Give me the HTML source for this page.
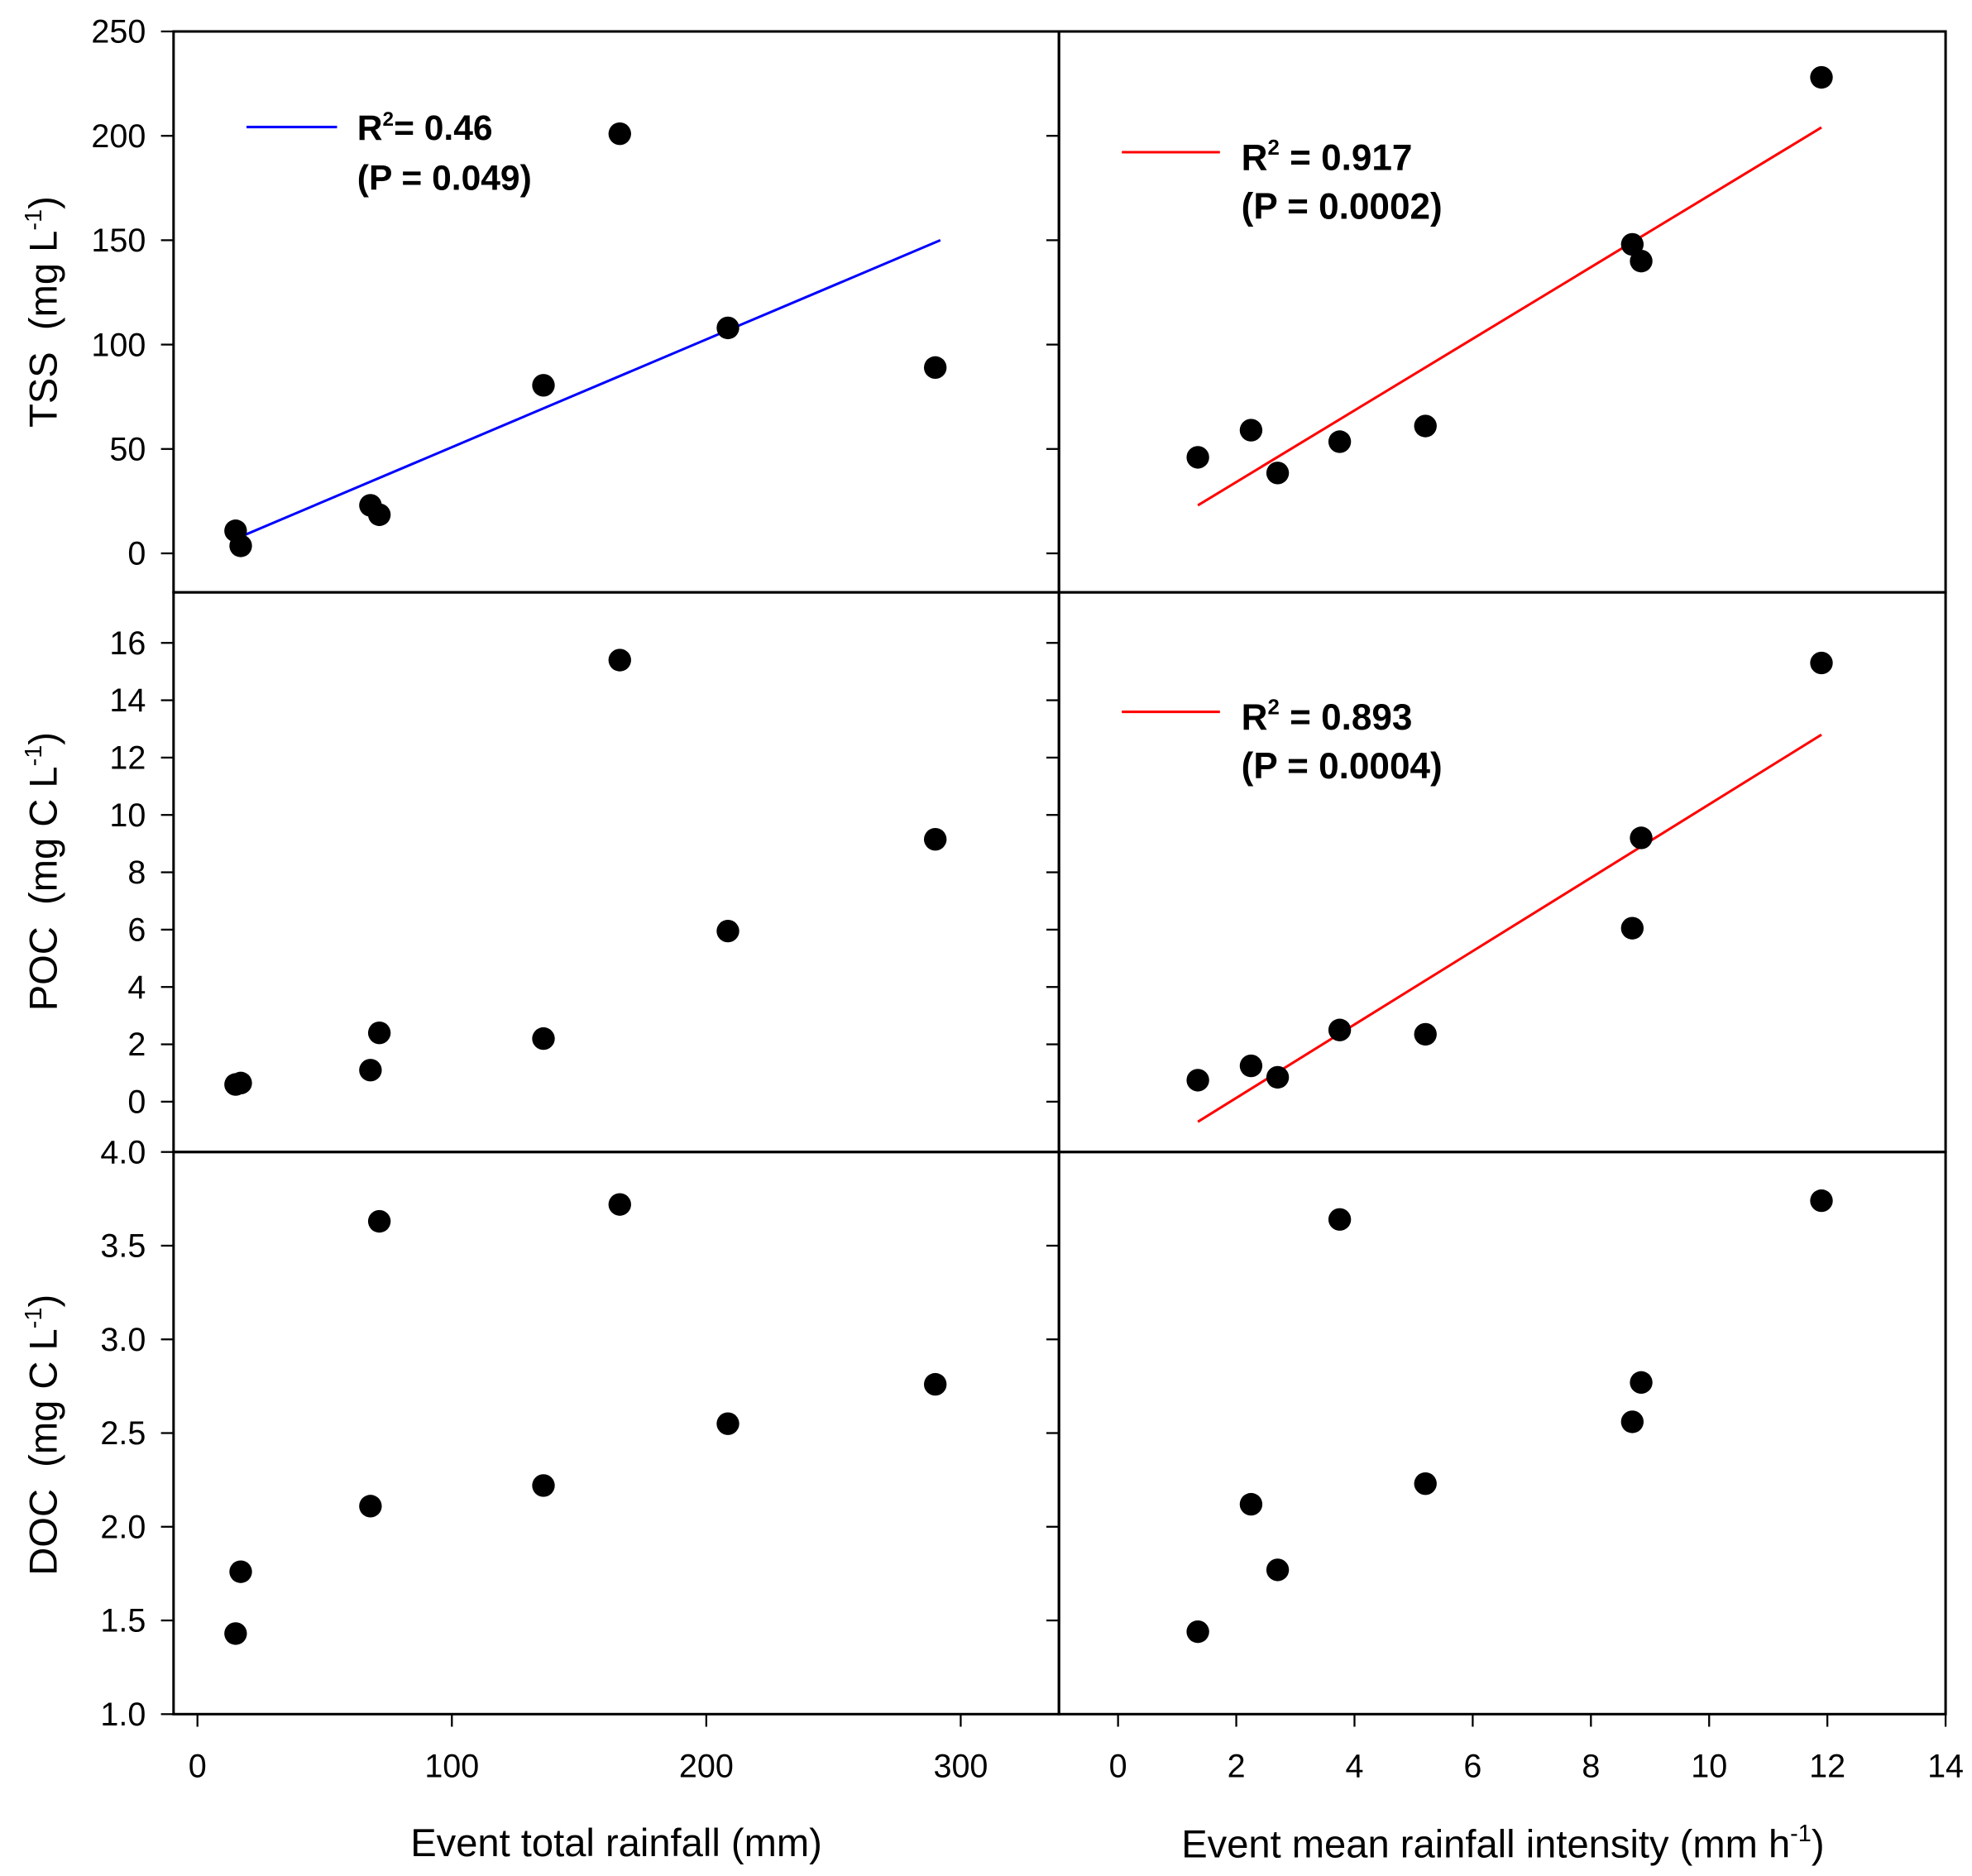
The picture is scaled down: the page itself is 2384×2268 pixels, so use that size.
<!DOCTYPE html>
<html><head><meta charset="utf-8"><style>
html,body{margin:0;padding:0;background:#fff}
svg{display:block}
text{font-family:"Liberation Sans",Arial,sans-serif;fill:#000}
</style></head><body>
<svg id="fig" width="2384" height="2268" viewBox="0 0 1568 1491.7" xmlns="http://www.w3.org/2000/svg"></svg>
<script>
const rainfall=[15,17,68,71.5,136,166,208.5,290];
const intensity=[1.35,2.25,2.7,3.75,5.2,8.7,8.85,11.9];
const tssL=[10.8,3.6,23,18.5,80.5,201,108,89];
const tssR=[46,59,38.5,53.5,61,148,140,228];
const pocL=[0.6,0.65,1.1,2.4,2.2,15.4,5.95,9.15];
const pocR=[0.75,1.25,0.85,2.5,2.35,6.05,9.2,15.3];
const docL=[1.43,1.76,2.11,3.63,2.22,3.72,2.55,2.76];
const docR=[1.44,2.12,1.77,3.64,2.23,2.56,2.77,3.74];
const fitTssL=[[17,8],[292,150]];
const fitTssR=[[1.35,23],[11.9,204]];
const fitPocR=[[1.35,-0.7],[11.9,12.8]];
const xTicksL=[0,100,200,300];
const xTicksR=[0,2,4,6,8,10,12,14];
const yTicksTss=[0,50,100,150,200,250];
const yTicksPoc=[0,2,4,6,8,10,12,14,16];
const yTicksDoc=[1.0,1.5,2.0,2.5,3.0,3.5,4.0];

const svg=document.getElementById('fig');
const NS='http://www.w3.org/2000/svg';
function mk(tag,attrs,parent){const e=document.createElementNS(NS,tag);for(const k in attrs)e.setAttribute(k,attrs[k]);(parent||svg).appendChild(e);return e;}

const xL=v=>157+v*2.023;
const xR=v=>889+v*47.0;
const yT=v=>440-v*1.66;
const yM=v=>876-v*22.8;
const yB=v=>1363-(v-1)*149;

const panels=[[138,25,704,446,'panel-tss-rainfall'],[842,25,705,446,'panel-tss-intensity'],[138,471,704,445,'panel-poc-rainfall'],[842,471,705,445,'panel-poc-intensity'],[138,916,704,447,'panel-doc-rainfall'],[842,916,705,447,'panel-doc-intensity']];
for(const p of panels){const r=mk('rect',{x:p[0],y:p[1],width:p[2],height:p[3],fill:'none',stroke:'#000','stroke-width':2});

}

function yAxis(ticks,fy,fmt,name){const g=mk('g',{});


for(const t of ticks){const y=fy(t);mk('line',{x1:128,x2:138,y1:y,y2:y,stroke:'#000','stroke-width':1.5},g);
const tx=mk('text',{x:116,y:y+9,'text-anchor':'end','font-size':26},g);tx.textContent=fmt(t);
mk('line',{x1:832,x2:842,y1:y,y2:y,stroke:'#000','stroke-width':1.5},g);}}
yAxis(yTicksTss,yT,t=>t,'y-axis-tss');
yAxis(yTicksPoc,yM,t=>t,'y-axis-poc');
yAxis(yTicksDoc,yB,t=>t.toFixed(1),'y-axis-doc');

function xAxis(ticks,fx,name){const g=mk('g',{});


for(const t of ticks){const x=fx(t);mk('line',{x1:x,x2:x,y1:1363,y2:1373,stroke:'#000','stroke-width':1.5},g);
const tx=mk('text',{x:x,y:1413,'text-anchor':'middle','font-size':26},g);tx.textContent=t;}}
xAxis(xTicksL,xL,'x-axis-rainfall');
xAxis(xTicksR,xR,'x-axis-intensity');

function fit(f,fx,fy,color,name){const l=mk('line',{x1:fx(f[0][0]),y1:fy(f[0][1]),x2:fx(f[1][0]),y2:fy(f[1][1]),stroke:color,'stroke-width':2});

}
fit(fitTssL,xL,yT,'#0000ff','fit-line-tss-rainfall');
fit(fitTssR,xR,yT,'#ff0000','fit-line-tss-intensity');
fit(fitPocR,xR,yM,'#ff0000','fit-line-poc-intensity');

function pts(xs,ys,fx,fy,name){const g=mk('g',{});


xs.forEach((x,i)=>{const c=mk('circle',{cx:fx(x),cy:fy(ys[i]),r:9,fill:'#000'},g);

});}
pts(rainfall,tssL,xL,yT,'series-tss-rainfall');
pts(intensity,tssR,xR,yT,'series-tss-intensity');
pts(rainfall,pocL,xL,yM,'series-poc-rainfall');
pts(intensity,pocR,xR,yM,'series-poc-intensity');
pts(rainfall,docL,xL,yB,'series-doc-rainfall');
pts(intensity,docR,xR,yB,'series-doc-intensity');
</script>
<svg style="position:absolute;left:0;top:0" width="2384" height="2268" viewBox="0 0 1568 1491.7" xmlns="http://www.w3.org/2000/svg">
<g>
<line x1="196" x2="268" y1="101" y2="101" stroke="#0000ff" stroke-width="2"/>
<text x="284" y="111" font-size="28" font-weight="bold" style="font-family:'Liberation Sans',sans-serif">R<tspan dy="-11" font-size="16">2</tspan><tspan dy="11">= 0.46</tspan></text>
<text x="284" y="151" font-size="28" font-weight="bold" style="font-family:'Liberation Sans',sans-serif">(P = 0.049)</text>
</g>
<g>
<line x1="892" x2="970" y1="121" y2="121" stroke="#ff0000" stroke-width="2"/>
<text x="987" y="135" font-size="29" font-weight="bold" style="font-family:'Liberation Sans',sans-serif">R<tspan dy="-12" font-size="17">2</tspan><tspan dy="12"> = 0.917</tspan></text>
<text x="987" y="174" font-size="29" font-weight="bold" style="font-family:'Liberation Sans',sans-serif">(P = 0.0002)</text>
</g>
<g>
<line x1="892" x2="970" y1="566" y2="566" stroke="#ff0000" stroke-width="2"/>
<text x="987" y="580" font-size="29" font-weight="bold" style="font-family:'Liberation Sans',sans-serif">R<tspan dy="-12" font-size="17">2</tspan><tspan dy="12"> = 0.893</tspan></text>
<text x="987" y="619" font-size="29" font-weight="bold" style="font-family:'Liberation Sans',sans-serif">(P = 0.0004)</text>
</g>
<text transform="translate(45,248) rotate(-90)" text-anchor="middle" font-size="31" style="font-family:'Liberation Sans',sans-serif">TSS &#160;(mg L<tspan dy="-12" font-size="19">-1</tspan><tspan dy="12">)</tspan></text>
<text transform="translate(45,693) rotate(-90)" text-anchor="middle" font-size="31" style="font-family:'Liberation Sans',sans-serif">POC &#160;(mg C L<tspan dy="-12" font-size="19">-1</tspan><tspan dy="12">)</tspan></text>
<text transform="translate(45,1141) rotate(-90)" text-anchor="middle" font-size="31" style="font-family:'Liberation Sans',sans-serif">DOC &#160;(mg C L<tspan dy="-12" font-size="19">-1</tspan><tspan dy="12">)</tspan></text>
<text x="490" y="1476" text-anchor="middle" font-size="31" style="font-family:'Liberation Sans',sans-serif">Event total rainfall (mm)</text>
<text x="1195" y="1477" text-anchor="middle" font-size="31" style="font-family:'Liberation Sans',sans-serif">Event mean rainfall intensity (mm h<tspan dy="-13" font-size="19">-1</tspan><tspan dy="13">)</tspan></text>
</svg>
</body></html>
